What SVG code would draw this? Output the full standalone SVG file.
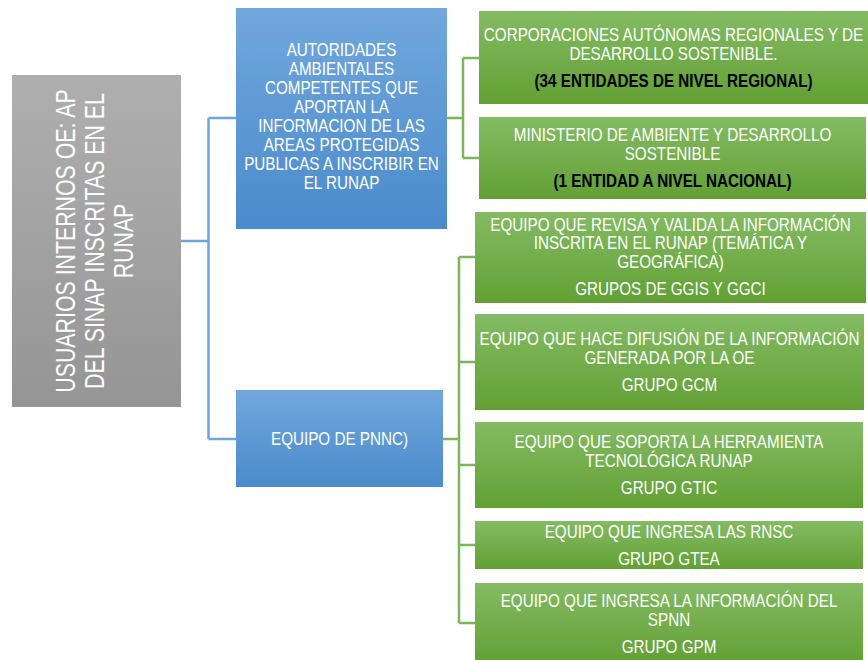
<svg xmlns="http://www.w3.org/2000/svg" width="868" height="660" viewBox="0 0 868 660">
<defs>
<linearGradient id="gBlue" x1="0" y1="0" x2="0" y2="1"><stop offset="0" stop-color="#71a7de"/><stop offset="1" stop-color="#4a8bcb"/></linearGradient>
<linearGradient id="gGreen" x1="0" y1="0" x2="0" y2="1"><stop offset="0" stop-color="#84bb63"/><stop offset="1" stop-color="#62a034"/></linearGradient>
<linearGradient id="gGray" x1="0" y1="0" x2="0" y2="1"><stop offset="0" stop-color="#afafaf"/><stop offset="1" stop-color="#959595"/></linearGradient>
</defs>
<style>
.t{font-family:"Liberation Sans",Arial,sans-serif;font-size:18px;fill:#ffffff;text-anchor:middle}
.b{font-weight:bold;fill:#000000}
.g{font-size:27px}
.cb{fill:none;stroke:#6fa4dc;stroke-width:2.5}
.cg{fill:none;stroke:#7db658;stroke-width:2.5}
</style>
<rect width="868" height="660" fill="#ffffff"/>
<g id="connectors">
<path class="cb" d="M181 241H208.5M208.5 118V439M208.5 118H236M208.5 439H236"/>
<path class="cg" d="M447 118H463M463 58V158M463 58H479M463 158H479"/>
<path class="cg" d="M443 439H459M459 257V623M459 257H475M459 362H475M459 465H475M459 545H475M459 623H475"/>
</g>
<g id="root">
<rect x="12" y="75" width="169" height="332" fill="url(#gGray)"/>
<text class="t g" transform="translate(75 241) rotate(-90) scale(0.79 1)">USUARIOS INTERNOS OE: AP</text>
<text class="t g" transform="translate(104 241) rotate(-90) scale(0.79 1)">DEL SINAP INSCRITAS EN EL</text>
<text class="t g" transform="translate(133 241) rotate(-90) scale(0.79 1)">RUNAP</text>
</g>
<g id="autoridades">
<rect x="236" y="8" width="211" height="221" fill="url(#gBlue)"/>
<g transform="translate(341.5 0) scale(0.847 1)">
<text class="t" x="0" y="56.5">AUTORIDADES</text>
<text class="t" x="0" y="75.5">AMBIENTALES</text>
<text class="t" x="0" y="94.5">COMPETENTES QUE</text>
<text class="t" x="0" y="113.5">APORTAN LA</text>
<text class="t" x="0" y="132.5">INFORMACION DE LAS</text>
<text class="t" x="0" y="151.5">AREAS PROTEGIDAS</text>
<text class="t" x="0" y="170.5">PUBLICAS A INSCRIBIR EN</text>
<text class="t" x="0" y="189.5">EL RUNAP</text>
</g>
</g>
<g id="pnnc">
<rect x="236" y="390" width="207" height="97" fill="url(#gBlue)"/>
<g transform="translate(339.5 0) scale(0.847 1)">
<text class="t" x="0" y="445">EQUIPO DE PNNC)</text>
</g>
</g>
<g id="car">
<rect x="479" y="11" width="389" height="93" fill="url(#gGreen)"/>
<g transform="translate(673.5 0) scale(0.847 1)">
<text class="t" x="0" y="41">CORPORACIONES AUTÓNOMAS REGIONALES Y DE</text>
<text class="t" x="0" y="60">DESARROLLO SOSTENIBLE.</text>
<text class="t b" x="0" y="87">(34 ENTIDADES DE NIVEL REGIONAL)</text>
</g>
</g>
<g id="ministerio">
<rect x="479" y="117" width="387" height="82" fill="url(#gGreen)"/>
<g transform="translate(672.5 0) scale(0.847 1)">
<text class="t" x="0" y="141">MINISTERIO DE AMBIENTE Y DESARROLLO</text>
<text class="t" x="0" y="160">SOSTENIBLE</text>
<text class="t b" x="0" y="187.5">(1 ENTIDAD A NIVEL NACIONAL)</text>
</g>
</g>
<g id="ggis">
<rect x="475" y="212" width="391" height="91" fill="url(#gGreen)"/>
<g transform="translate(670.5 0) scale(0.847 1)">
<text class="t" x="0" y="231">EQUIPO QUE REVISA Y VALIDA LA INFORMACIÓN</text>
<text class="t" x="0" y="249.5">INSCRITA EN EL RUNAP (TEMÁTICA Y</text>
<text class="t" x="0" y="268">GEOGRÁFICA)</text>
<text class="t" x="0" y="295.5">GRUPOS DE GGIS Y GGCI</text>
</g>
</g>
<g id="gcm">
<rect x="475" y="314" width="389" height="96" fill="url(#gGreen)"/>
<g transform="translate(669.5 0) scale(0.847 1)">
<text class="t" x="0" y="345.5">EQUIPO QUE HACE DIFUSIÓN DE LA INFORMACIÓN</text>
<text class="t" x="0" y="364">GENERADA POR LA OE</text>
<text class="t" x="0" y="391">GRUPO GCM</text>
</g>
</g>
<g id="gtic">
<rect x="475" y="422" width="388" height="86" fill="url(#gGreen)"/>
<g transform="translate(669 0) scale(0.847 1)">
<text class="t" x="0" y="448.5">EQUIPO QUE SOPORTA LA HERRAMIENTA</text>
<text class="t" x="0" y="467">TECNOLÓGICA RUNAP</text>
<text class="t" x="0" y="494">GRUPO GTIC</text>
</g>
</g>
<g id="gtea">
<rect x="475" y="521" width="388" height="48" fill="url(#gGreen)"/>
<g transform="translate(669 0) scale(0.847 1)">
<text class="t" x="0" y="538.5">EQUIPO QUE INGRESA LAS RNSC</text>
<text class="t" x="0" y="565">GRUPO GTEA</text>
</g>
</g>
<g id="gpm">
<rect x="475" y="583" width="388" height="80" fill="url(#gGreen)"/>
<g transform="translate(669 0) scale(0.847 1)">
<text class="t" x="0" y="607">EQUIPO QUE INGRESA LA INFORMACIÓN DEL</text>
<text class="t" x="0" y="626">SPNN</text>
<text class="t" x="0" y="653">GRUPO GPM</text>
</g>
</g>
</svg>
